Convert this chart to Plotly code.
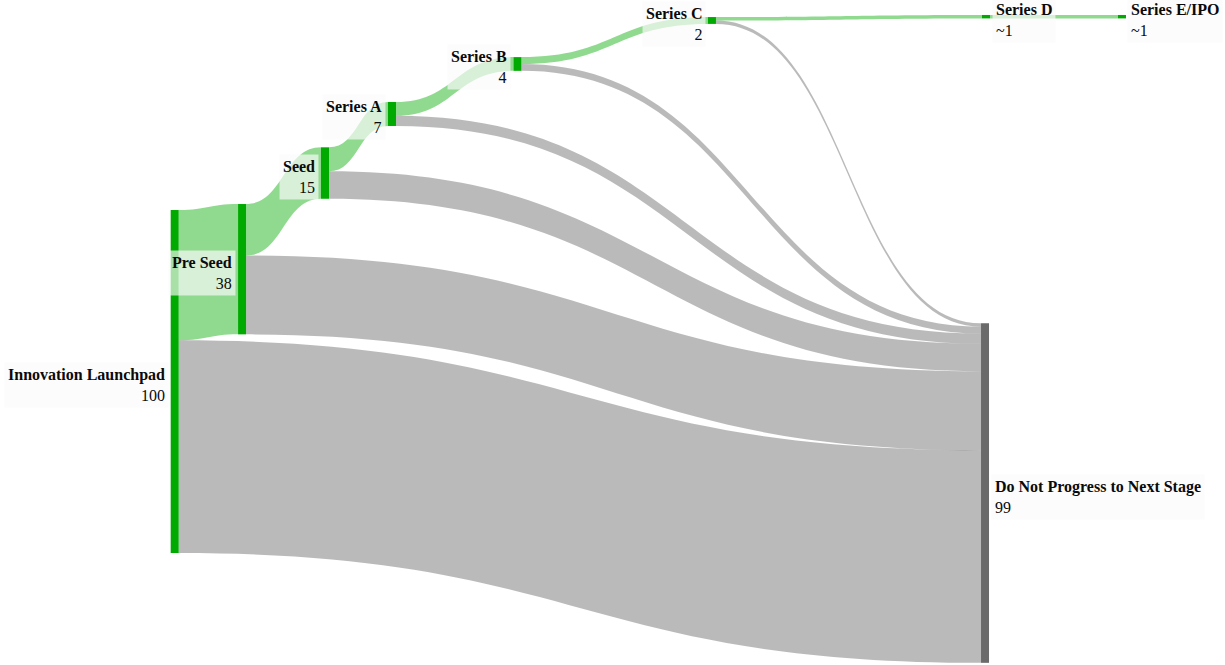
import plotly.graph_objects as go

node_names = ["Innovation Launchpad", "Pre Seed", "Seed", "Series A", "Series B",
              "Series C", "Series D", "Series E/IPO", "Do Not Progress to Next Stage"]
node_values = ["100", "38", "15", "7", "4", "2", "~1", "~1", "99"]
node_x = [0.1426, 0.1976, 0.2653, 0.3200, 0.4224, 0.5812, 0.8049, 0.9159, 0.8041]
node_y = [0.5737, 0.4048, 0.2602, 0.1714, 0.0962, 0.0308, 0.0251, 0.0251, 0.7414]
node_colors = ["#00aa00"] * 8 + ["#6a6a6a"]

link_source = [0, 0, 1, 1, 2, 2, 3, 3, 4, 4, 5, 5, 6]
link_target = [1, 8, 2, 8, 3, 8, 4, 8, 5, 8, 6, 8, 7]
link_value = [38, 62, 15, 23, 7, 8, 4, 3, 2, 2, 1, 1, 1]

W, H = 1225, 665
THICK = 8
LABEL_DROP = 3.5  # px
GREEN_LINK = "rgba(0,170,0,0.44)"
GRAY_LINK = "rgba(0,0,0,0.27)"
link_colors = [GREEN_LINK if t != 8 else GRAY_LINK for t in link_target]

fig = go.Figure(go.Sankey(
    arrangement="fixed",
    node=dict(
        label=[""] * len(node_names),
        x=node_x,
        y=node_y,
        color=node_colors,
        thickness=THICK,
        pad=322,
        line=dict(width=0),
    ),
    link=dict(
        source=link_source,
        target=link_target,
        value=link_value,
        color=link_colors,
    ),
    hoverinfo="none",
))

annotations = []
for name, val, x, y in zip(node_names, node_values, node_x, node_y):
    cx = x * W
    on_left = x < 0.6
    if on_left:
        ax = (cx - THICK / 2 - 2) / W
        xanchor, align = "right", "right"
    else:
        ax = (cx + THICK / 2 + 1.5) / W
        xanchor, align = "left", "left"
    annotations.append(dict(
        x=ax, y=1 - y - LABEL_DROP / H, xref="paper", yref="paper",
        xanchor=xanchor, yanchor="middle", align=align,
        text=f"<b>{name}</b><br>{val}",
        showarrow=False,
        font=dict(family="Liberation Serif", size=16, color="#0a0a0a"),
        bgcolor="rgba(250,250,250,0.67)",
        borderpad=3,
    ))

fig.update_layout(
    width=W, height=H,
    margin=dict(l=0, r=0, t=0, b=0),
    paper_bgcolor="white",
    annotations=annotations,
)

fig.write_html("out.html")
